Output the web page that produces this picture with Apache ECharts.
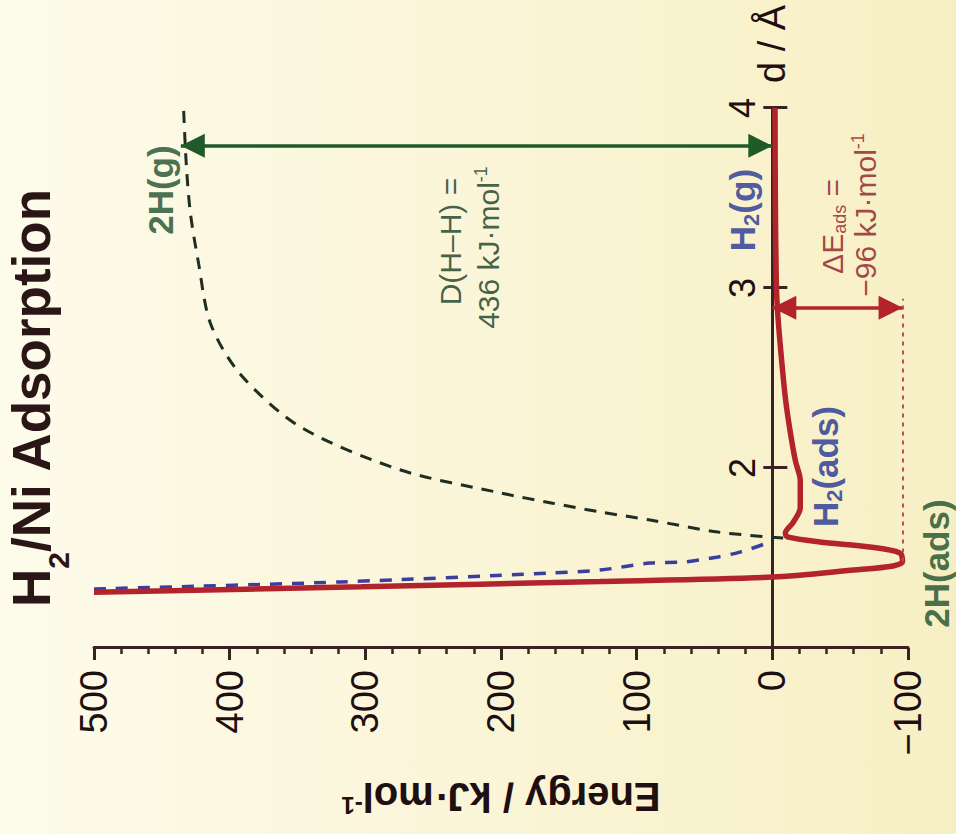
<!DOCTYPE html>
<html>
<head>
<meta charset="utf-8">
<title>H2/Ni Adsorption</title>
<script src="https://cdn.jsdelivr.net/npm/echarts@6/dist/echarts.min.js"></script>
<style>
  html, body {
    margin: 0; padding: 0; width: 956px; height: 834px; overflow: hidden;
    background: linear-gradient(to right, #fdfbea 0%, #fbf6da 45%, #f7efc4 100%);
  }
  /* The figure is laid out upright (d along x, energy along y) and turned a quarter turn counter-clockwise. */
  #chart {
    position: absolute; left: 0; top: 0; width: 834px; height: 956px;
    transform-origin: 0 0;
    transform: translate(0, 834px) rotate(-90deg);
  }
</style>
</head>
<body>
<div id="chart"></div>
<script>
// Potential energy (kJ/mol) versus H–H / H–Ni distance d (Å): [d, E]
const dissociatedCurve = [
  [1.611, -8], [1.644, 40], [1.711, 90], [1.756, 127], [1.806, 163], [1.861, 200],
  [1.989, 274], [2.229, 348], [2.52, 392], [2.80, 414], [3.14, 423], [3.42, 429],
  [3.69, 432], [4.0, 434]
];
const molecularCurve = [
  [1.328, 500], [1.367, 318], [1.417, 163], [1.433, 127], [1.472, 90], [1.478, 65],
  [1.506, 40], [1.533, 24], [1.583, 4], [1.60, 1]
];
const adsorptionCurve = [
  [1.31, 500], [1.34, 303], [1.37, 127], [1.394, 0], [1.433, -60], [1.456, -89],
  [1.48, -96], [1.528, -94], [1.561, -72], [1.589, -35], [1.617, -11], [1.639, -9.6],
  [1.694, -15], [1.78, -20.6], [1.93, -20.6], [2.04, -17], [2.21, -13], [2.39, -9.6],
  [2.67, -6], [2.89, -3.7], [3.04, -2.9], [3.5, -2.2], [4.0, -2]
];

// Energies quoted in the annotations
const bondEnergy = 436;        // D(H–H)
const adsorptionEnergy = -96;  // ΔE_ads
const bondArrowD = 3.79;
const adsArrowD = 2.89;
const wellMinD = 1.48;
const adsGuideEndD = 2.94;

const dRange = [1, 4];
const energyRange = [-100, 500];

const FONT = '"Liberation Sans", Arial, Helvetica, sans-serif';
const INK = '#3a2222';
const RED = '#b3232c';
const RED_TEXT = '#8c1825';
const BLUE = '#3a3e9e';
const BLUE_TEXT = '#213294';
const DARK_DASH = '#1f2e22';
const GREEN = '#1e5a2a';
const GREEN_LABEL = '#1a4d28';
const GREEN_TEXT = '#123b20';

const boldRich = (color) => ({
  n: { fontSize: 35, fontWeight: 'bold', fontFamily: FONT, color: color, lineHeight: 40 },
  s: { fontSize: 22, fontWeight: 'bold', fontFamily: FONT, color: color, lineHeight: 22,
       verticalAlign: 'bottom', padding: [14, 0, 0, 0] }
});
const plainRich = (color) => ({
  n: { fontSize: 30, fontFamily: FONT, color: color, lineHeight: 34 },
  sup: { fontSize: 18, fontFamily: FONT, color: color, lineHeight: 18, verticalAlign: 'top' },
  sub: { fontSize: 18, fontFamily: FONT, color: color, lineHeight: 18,
         verticalAlign: 'bottom', padding: [12, 0, 0, 0] }
});

const notes = [
  { at: [3.544, 451], text: '{n|2H(g)}', rich: boldRich(GREEN_LABEL) },
  { at: [3.433, 22], text: '{n|H}{s|2}{n|(g)}', rich: boldRich(BLUE_TEXT) },
  { at: [2.008, -39], text: '{n|H}{s|2}{n|(ads)}', rich: boldRich(BLUE_TEXT) },
  { at: [1.469, -121], text: '{n|2H(ads)}', rich: boldRich(GREEN_LABEL) },
  { at: [3.258, 237], text: '{n|D(H–H) =}', rich: plainRich(GREEN_TEXT) },
  { at: [3.225, 209], text: '{n|' + bondEnergy + ' kJ·mol}{sup|-1}', rich: plainRich(GREEN_TEXT) },
  { at: [3.342, -44], text: '{n|ΔE}{sub|ads}{n| =}', rich: plainRich(RED_TEXT) },
  { at: [3.406, -69], text: '{n|−' + Math.abs(adsorptionEnergy) + ' kJ·mol}{sup|-1}', rich: plainRich(RED_TEXT) }
];

const chart = echarts.init(document.getElementById('chart'), null, { renderer: 'svg' });

const xCommon = {
  type: 'value', min: dRange[0], max: dRange[1], interval: 1,
  splitLine: { show: false }
};
// Filled arrowheads at both ends; each head is pulled back by half its length so its tip sits on the end value.
const arrowEnds = {
  symbol: ['triangle', 'triangle'],
  symbolSize: [24, 24],
  symbolOffset: [[0, 12], [0, 12]]
};

chart.setOption({
  animation: false,
  backgroundColor: 'transparent',
  title: {
    text: '{m|H}{s|2}{m|/Ni Adsorption}',
    left: 227, top: 5, padding: 0,
    textStyle: {
      rich: {
        m: { fontSize: 53, fontWeight: 'bold', fontFamily: FONT, color: '#2a1616',
             lineHeight: 50, verticalAlign: 'top' },
        s: { fontSize: 30, fontWeight: 'bold', fontFamily: FONT, color: '#2a1616',
             lineHeight: 30, verticalAlign: 'top', padding: [38, 0, 0, 0] }
      }
    }
  },
  grid: { left: 186, right: 108, top: 94, bottom: 48, containLabel: false, outerBoundsMode: 'none' },
  xAxis: [
    // distance axis with its labels, drawn along the zero-energy line
    Object.assign({}, xCommon, {
      position: 'top',
      axisLine: { show: true, onZero: false, lineStyle: { color: INK, width: 3 } },
      name: 'd / Å', nameLocation: 'end', nameGap: 25,
      nameTextStyle: { fontSize: 38, fontFamily: FONT, color: '#1e1010' },
      axisTick: { show: true, inside: false, length: 9, lineStyle: { color: INK, width: 3 } },
      axisLabel: { show: true, showMinLabel: false, margin: 12, fontSize: 36,
                   fontFamily: FONT, color: '#1e1010' }
    }),
    // lower half of the crossing ticks
    Object.assign({}, xCommon, {
      position: 'bottom',
      axisLine: { show: false, onZero: false },
      axisTick: { show: true, inside: false, length: 15, lineStyle: { color: INK, width: 3 } },
      axisLabel: { show: false }
    })
  ],
  yAxis: {
    type: 'value', min: energyRange[0], max: energyRange[1], interval: 100,
    position: 'left',
    splitLine: { show: false },
    axisLine: { show: true, onZero: false, lineStyle: { color: INK, width: 3 } },
    axisTick: { show: true, length: 12, lineStyle: { color: INK, width: 3 } },
    minorTick: { show: true, splitNumber: 5, length: 6, lineStyle: { color: INK, width: 2.5 } },
    axisLabel: {
      margin: 22, fontSize: 38, fontFamily: FONT, color: '#1e1010',
      formatter: (v) => (v < 0 ? '−' + Math.abs(v) : String(v))
    },
    name: 'Energy / kJ·mol{sup|-1}',
    nameLocation: 'middle', nameRotate: 90, nameGap: 129, nameMoveOverlap: false,
    nameTextStyle: {
      fontSize: 40, fontWeight: 'bold', fontFamily: FONT, color: '#1e1010',
      rich: { sup: { fontSize: 24, fontWeight: 'bold', fontFamily: FONT, color: '#1e1010',
                     verticalAlign: 'top', lineHeight: 24 } }
    }
  },
  series: [
    {
      name: '2H(g)', type: 'line', data: dissociatedCurve, smooth: 0.3,
      showSymbol: false, silent: true,
      lineStyle: { color: DARK_DASH, width: 3, type: [12, 9] },
      markLine: Object.assign({
        silent: true, animation: false,
        label: { show: false },
        lineStyle: { color: GREEN, width: 3.5, type: 'solid' },
        data: [[{ coord: [bondArrowD, 0] }, { coord: [bondArrowD, bondEnergy] }]]
      }, arrowEnds)
    },
    {
      name: 'H2', type: 'line', data: molecularCurve, smooth: 0.3,
      showSymbol: false, silent: true,
      lineStyle: { color: BLUE, width: 3.5, type: [12, 10] }
    },
    {
      name: 'H2/Ni', type: 'line', data: adsorptionCurve, smooth: 0.3,
      showSymbol: false, silent: true,
      lineStyle: { color: RED, width: 5.5 },
      markLine: Object.assign({
        silent: true, animation: false,
        label: { show: false },
        lineStyle: { color: RED, width: 3.5, type: 'solid' },
        data: [
          [{ coord: [adsArrowD, 0] }, { coord: [adsArrowD, adsorptionEnergy] }],
          [
            { coord: [wellMinD, adsorptionEnergy], symbol: 'none',
              lineStyle: { color: '#c04a5c', width: 2, type: [4, 5] } },
            { coord: [adsGuideEndD, adsorptionEnergy], symbol: 'none' }
          ]
        ]
      }, arrowEnds)
    },
    {
      name: 'notes', type: 'scatter', symbolSize: 0, silent: true, clip: false, z: 5,
      data: notes.map((n) => ({
        value: n.at,
        label: { show: true, position: 'inside', formatter: n.text, rich: n.rich }
      }))
    }
  ]
});

// Move both distance axes onto the zero-energy line, using the energy scale.
const zeroPx = chart.convertToPixel({ yAxisIndex: 0 }, 0);
const topPx = chart.convertToPixel({ yAxisIndex: 0 }, energyRange[1]);
const bottomPx = chart.convertToPixel({ yAxisIndex: 0 }, energyRange[0]);
chart.setOption({
  xAxis: [
    { offset: topPx - zeroPx },
    { offset: zeroPx - bottomPx }
  ]
});
</script>
</body>
</html>
